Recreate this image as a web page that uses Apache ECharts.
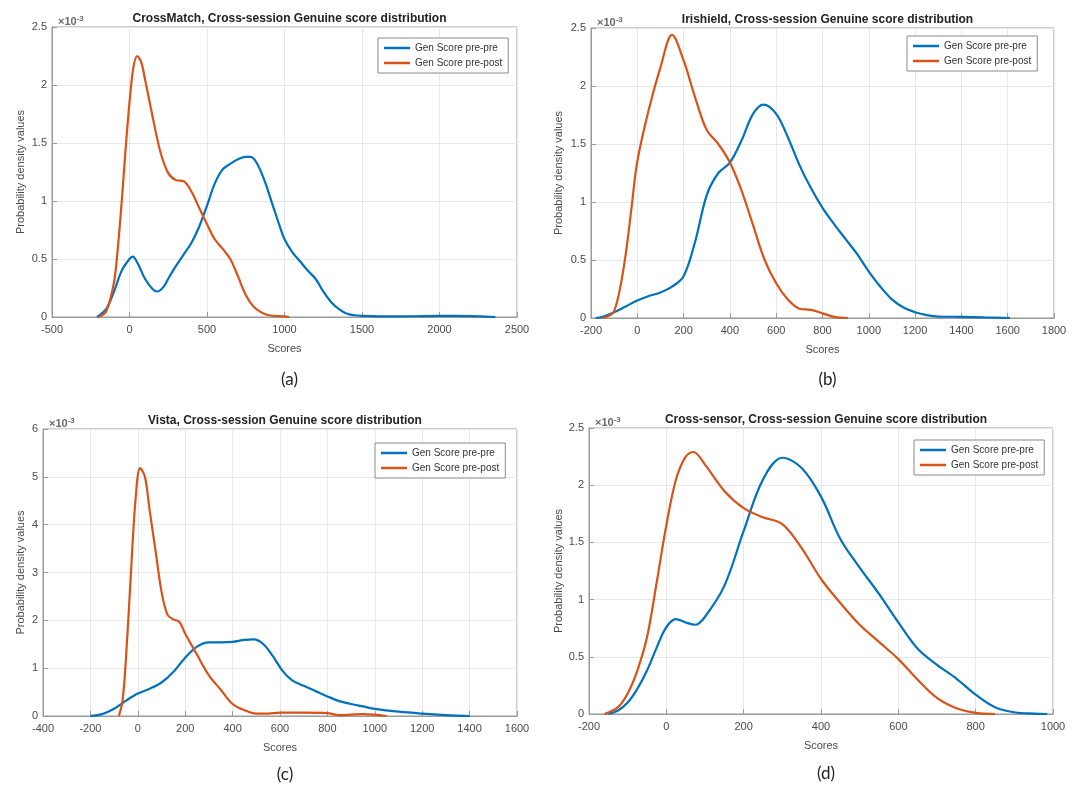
<!DOCTYPE html>
<html>
<head>
<meta charset="utf-8">
<script src="https://cdn.jsdelivr.net/npm/echarts@6/dist/echarts.min.js"></script>
<style>
html,body{margin:0;padding:0;background:#fff;}
#chart{width:1077px;height:788px;}
</style>
</head>
<body>
<div id="chart"></div>
<script>
// ---- data (scores, density ×10^-3) ----
const seriesNames = ['Gen Score pre-pre', 'Gen Score pre-post'];
const panelTitles = [
  'CrossMatch, Cross-session Genuine score distribution',
  'Irishield, Cross-session Genuine score distribution',
  'Vista, Cross-session Genuine score distribution',
  'Cross-sensor, Cross-session Genuine score distribution'
];
const panelLabels = ['(a)', '(b)', '(c)', '(d)'];
const xMins = [-500, -200, -400, -200];
const xMaxs = [2500, 1800, 1600, 1000];
const xSteps = [500, 200, 200, 200];
const yMaxs = [2.5, 2.5, 6, 2.5];
const ySteps = [0.5, 0.5, 1, 0.5];

const crossMatchPrePre = [[-210,0],[-150,0.07],[-100,0.22],[-50,0.4],[0,0.5],[20,0.52],[50,0.47],[100,0.33],[150,0.24],[180,0.22],[220,0.26],[250,0.33],[300,0.44],[350,0.54],[400,0.64],[450,0.78],[500,0.96],[550,1.15],[600,1.27],[650,1.32],[700,1.36],[750,1.38],[780,1.38],[820,1.33],[870,1.18],[920,0.98],[970,0.78],[1000,0.67],[1050,0.56],[1100,0.48],[1150,0.4],[1200,0.33],[1250,0.22],[1300,0.13],[1350,0.07],[1400,0.03],[1450,0.015],[1500,0.01],[1700,0.005],[1900,0.008],[2100,0.01],[2200,0.008],[2360,0]];
const crossMatchPrePost = [[-200,0],[-150,0.05],[-100,0.3],[-75,0.6],[-50,1.0],[-25,1.45],[0,1.85],[25,2.15],[50,2.25],[75,2.2],[100,2.05],[150,1.72],[200,1.42],[250,1.24],[300,1.18],[350,1.17],[400,1.08],[450,0.94],[500,0.8],[550,0.67],[600,0.59],[650,0.5],[700,0.35],[750,0.19],[800,0.09],[850,0.04],[900,0.015],[1000,0.005],[1030,0]];
const irishieldPrePre = [[-180,0],[-150,0.01],[-100,0.05],[-50,0.1],[0,0.15],[50,0.19],[100,0.22],[150,0.27],[200,0.36],[250,0.66],[300,1.06],[350,1.25],[400,1.34],[450,1.53],[500,1.76],[545,1.84],[600,1.76],[650,1.56],[700,1.32],[750,1.12],[800,0.95],[850,0.81],[900,0.68],[950,0.55],[1000,0.4],[1050,0.27],[1100,0.16],[1150,0.09],[1200,0.05],[1250,0.025],[1300,0.012],[1400,0.01],[1500,0.005],[1610,0]];
const irishieldPrePost = [[-150,0],[-120,0.02],[-100,0.06],[-75,0.25],[-50,0.55],[-25,0.95],[0,1.35],[50,1.8],[100,2.16],[150,2.44],[200,2.22],[250,1.9],[300,1.62],[350,1.5],[400,1.34],[450,1.1],[500,0.8],[550,0.5],[600,0.3],[650,0.16],[700,0.08],[750,0.07],[800,0.04],[850,0.01],[910,0]];
const vistaPrePre = [[-200,0],[-150,0.04],[-100,0.15],[-50,0.32],[0,0.47],[50,0.57],[100,0.7],[150,0.92],[200,1.22],[250,1.45],[300,1.54],[350,1.54],[400,1.55],[450,1.59],[490,1.6],[530,1.5],[570,1.25],[610,0.95],[650,0.75],[700,0.63],[750,0.52],[800,0.41],[850,0.31],[900,0.25],[950,0.2],[1000,0.15],[1100,0.09],[1200,0.05],[1300,0.02],[1400,0]];
const vistaPrePost = [[-80,0],[-65,0.3],[-50,1.2],[-30,2.9],[-10,4.5],[10,5.18],[30,5.0],[50,4.3],[75,3.45],[100,2.6],[125,2.12],[150,2.02],[175,1.97],[200,1.72],[250,1.28],[300,0.85],[350,0.55],[400,0.25],[450,0.12],[500,0.05],[550,0.05],[600,0.07],[700,0.07],[800,0.06],[850,0.02],[950,0.04],[1050,0]];
const crossSensorPrePre = [[-150,0],[-125,0.03],[-100,0.1],[-75,0.22],[-50,0.38],[-25,0.58],[0,0.76],[25,0.83],[50,0.8],[75,0.78],[100,0.85],[150,1.12],[200,1.6],[250,2.05],[300,2.24],[350,2.15],[400,1.9],[450,1.53],[500,1.28],[550,1.05],[600,0.8],[650,0.57],[700,0.43],[750,0.31],[800,0.17],[850,0.06],[900,0.015],[950,0.003],[985,0]];
const crossSensorPrePost = [[-160,0],[-125,0.06],[-100,0.18],[-75,0.38],[-50,0.67],[-25,1.15],[0,1.65],[25,2.05],[50,2.25],[70,2.29],[100,2.18],[150,1.95],[200,1.8],[250,1.72],[300,1.66],[350,1.45],[400,1.18],[450,0.97],[500,0.78],[550,0.63],[600,0.48],[650,0.3],[700,0.14],[750,0.05],[800,0.01],[850,0]];

const panelData = [
  [crossMatchPrePre, crossMatchPrePost],
  [irishieldPrePre, irishieldPrePost],
  [vistaPrePre, vistaPrePost],
  [crossSensorPrePre, crossSensorPrePost]
];

// ---- layout ----
const grids = [
  {left: 52, top: 27, width: 465, height: 290},
  {left: 591, top: 28, width: 463, height: 290},
  {left: 43, top: 429, width: 474, height: 287},
  {left: 589, top: 428, width: 464, height: 286}
];
const nameGapsY = [26, 27, 17, 25];
const labelOffsets = [49, 48, 45, 46];
const legendPos = [
  {left: 378, top: 38},
  {left: 907, top: 36},
  {left: 375, top: 443},
  {left: 914, top: 440}
];
const colors = ['#0072BD', '#D95319'];
const FONT = '"Liberation Sans", Arial, Helvetica, sans-serif';
const plainNum = v => String(Math.round(v * 1000) / 1000);

const option = {
  animation: false,
  backgroundColor: '#fff',
  title: [],
  grid: [],
  xAxis: [],
  yAxis: [],
  legend: [],
  series: []
};

grids.forEach((g, i) => {
  option.grid.push(Object.assign({show: true, borderColor: '#9a9a9a', borderWidth: 1, backgroundColor: '#fff'}, g));
  option.xAxis.push({
    gridIndex: i, type: 'value', min: xMins[i], max: xMaxs[i], interval: xSteps[i],
    name: 'Scores', nameLocation: 'middle', nameGap: 26,
    nameTextStyle: {color: '#4a4a4a', fontSize: 11, fontFamily: FONT},
    axisLine: {show: true, onZero: false, lineStyle: {color: '#9a9a9a'}},
    axisTick: {show: true, inside: true, length: 5, lineStyle: {color: '#9a9a9a'}},
    axisLabel: {color: '#4a4a4a', fontSize: 11, fontFamily: FONT, margin: 7, formatter: plainNum},
    splitLine: {show: true, lineStyle: {color: '#e8e8e8', width: 1}}
  });
  option.yAxis.push({
    gridIndex: i, type: 'value', min: 0, max: yMaxs[i], interval: ySteps[i],
    name: 'Probability density values', nameLocation: 'middle', nameGap: nameGapsY[i],
    nameTextStyle: {color: '#4a4a4a', fontSize: 11, fontFamily: FONT},
    axisLine: {show: true, onZero: false, lineStyle: {color: '#9a9a9a'}},
    axisTick: {show: true, inside: true, length: 5, lineStyle: {color: '#9a9a9a'}},
    axisLabel: {color: '#4a4a4a', fontSize: 11, fontFamily: FONT, margin: 5, formatter: plainNum},
    splitLine: {show: true, lineStyle: {color: '#e8e8e8', width: 1}}
  });
  option.title.push({
    text: panelTitles[i],
    left: g.left + g.width / 2, top: g.top - 19, textAlign: 'center',
    textStyle: {fontSize: 12, fontWeight: 'bold', color: '#222', fontFamily: FONT}
  });
  option.title.push({
    text: '×10{sup|-3}',
    left: g.left + 1, top: g.top - 17,
    textStyle: {fontSize: 11, color: '#6a6a6a', fontFamily: FONT,
      rich: {sup: {fontSize: 8, color: '#6a6a6a', verticalAlign: 'top', padding: [0, 0, 6, 0], fontFamily: FONT}}}
  });
  option.title.push({
    text: panelLabels[i],
    left: g.left + g.width / 2, top: g.top + g.height + labelOffsets[i], textAlign: 'center',
    textStyle: {fontSize: 17, fontWeight: 'normal', color: '#222', fontFamily: 'Lato, "Open Sans", sans-serif'}
  });
  option.legend.push({
    left: legendPos[i].left, top: legendPos[i].top,
    orient: 'vertical', itemWidth: 26, itemHeight: 2.5, itemGap: 3,
    icon: 'rect',
    padding: [4, 6, 4, 6],
    borderColor: '#8a8a8a', borderWidth: 1, backgroundColor: '#fff',
    textStyle: {fontSize: 10, color: '#333', fontFamily: FONT, lineHeight: 12},
    data: seriesNames
  });
  panelData[i].forEach((d, k) => {
    option.series.push({
      type: 'line', name: seriesNames[k], xAxisIndex: i, yAxisIndex: i,
      data: d, smooth: 0.35, symbol: 'none', showSymbol: false,
      lineStyle: {color: colors[k], width: 2.2}, itemStyle: {color: colors[k]},
      z: 3
    });
  });
});

const chart = echarts.init(document.getElementById('chart'), null, {renderer: 'canvas'});
chart.setOption(option);
</script>
</body>
</html>
